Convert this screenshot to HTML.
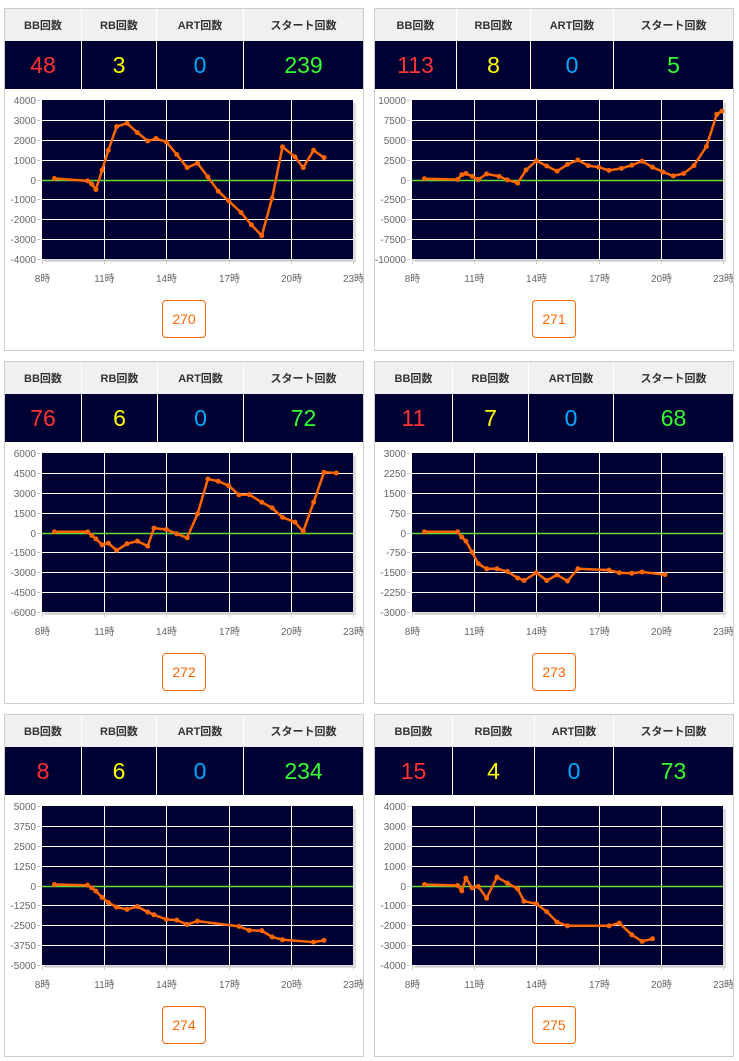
<!DOCTYPE html>
<html><head><meta charset="utf-8">
<style>
body{margin:0;background:#fff;width:739px;height:1061px;position:relative;overflow:hidden;font-family:"Liberation Sans","Noto Sans CJK JP",sans-serif;}
.panel{position:absolute;width:358px;height:341px;border:1px solid #ccc;background:#fff;}
.hdr,.val{position:absolute;left:0;display:flex;width:358px;}
.hdr{top:0;height:32px;background:#f0f0f0;}
.val{top:32px;height:48px;background:#000033;}
.hdr div,.val div{box-sizing:border-box;border-right:1px solid #fff;display:flex;align-items:center;justify-content:center;}
.hdr div{font-size:11px;font-weight:bold;color:#333;}
.val div{font-size:23px;}
.val div:last-child,.hdr div:last-child{border-right:none;}
.btn{position:absolute;left:157px;top:291px;width:42px;height:36px;border:1px solid #ff6600;border-radius:4px;color:#ff6600;font-size:14px;display:flex;align-items:center;justify-content:center;background:#fff;}
svg{position:absolute;left:0;top:80px;}
</style></head><body>
<div id="root"></div>
<script>
const panelIds=['270','271','272','273','274','275'];
const bbCounts=[48,113,76,11,8,15];
const rbCounts=[3,8,6,7,6,4];
const artCounts=[0,0,0,0,0,0];
const startCounts=[239,5,72,68,234,73];
const yMaxes=[4000,10000,6000,3000,5000,4000];
const xTicks=['8時','11時','14時','17時','20時','23時'];
const h1=[8.6,10.2,10.4,10.6,10.9,11.2,11.6,12.1,12.6,13.1,13.5,14.0,14.5,15.0,15.5,16.0,16.5,17.0,17.6,18.1,18.6,19.1,19.6,20.2,20.6,21.1,21.6];
const v1=[50,-70,-230,-500,470,1470,2660,2830,2360,1940,2060,1890,1260,600,820,130,-590,-1070,-1660,-2280,-2830,-940,1640,1140,600,1470,1100];
const h2=[8.6,10.2,10.4,10.6,10.9,11.2,11.6,12.2,12.6,13.1,13.5,14.0,14.5,15.0,15.5,16.0,16.5,17.0,17.5,18.1,18.6,19.1,19.6,20.1,20.6,21.1,21.6,22.2,22.7,22.95];
const v2=[100,0,600,750,400,0,700,400,-50,-450,1200,2350,1700,1050,1900,2450,1750,1550,1150,1400,1800,2300,1550,950,450,750,1750,4150,8200,8600];
const h3=[8.6,10.2,10.4,10.6,10.9,11.2,11.6,12.1,12.6,13.1,13.4,14.0,14.5,15.0,15.5,16.0,16.5,17.0,17.5,18.0,18.6,19.1,19.6,20.2,20.6,21.1,21.6,22.2];
const v3=[50,50,-220,-480,-930,-800,-1350,-850,-650,-1030,330,230,-100,-400,1400,4040,3870,3540,2840,2860,2280,1860,1150,780,80,2280,4540,4490];
const h4=[8.6,10.2,10.4,10.6,10.9,11.2,11.6,12.1,12.6,13.1,13.4,14.0,14.5,15.0,15.5,16.0,17.5,18.0,18.6,19.1,20.2];
const v4=[25,25,-175,-325,-740,-1180,-1370,-1370,-1470,-1720,-1810,-1520,-1810,-1600,-1830,-1370,-1420,-1520,-1540,-1490,-1590];
const h5=[8.6,10.2,10.4,10.6,10.9,11.2,11.6,12.1,12.6,13.1,13.4,14.0,14.5,15.0,15.5,17.5,18.0,18.6,19.1,19.6,21.1,21.6];
const v5=[60,20,-150,-350,-750,-1070,-1360,-1500,-1320,-1670,-1840,-2130,-2180,-2450,-2240,-2570,-2820,-2840,-3240,-3410,-3560,-3450];
const h6=[8.6,10.2,10.4,10.6,10.9,11.2,11.6,12.1,12.6,13.1,13.4,14.0,14.5,15.0,15.5,17.5,18.0,18.6,19.1,19.6];
const v6=[50,0,-270,370,-120,-50,-640,420,120,-170,-790,-920,-1320,-1840,-2030,-2030,-1890,-2480,-2810,-2680];
const hoursAll=[h1,h2,h3,h4,h5,h6];
const valuesAll=[v1,v2,v3,v4,v5,v6];
const colWidths=[[77,75,87,119],[82,74,83,119],[77,76,86,119],[78,76,85,119],[77,75,87,119],[78,82,79,119]];
const pos=[[4,8],[374,8],[4,361],[374,361],[4,714],[374,714]];
const NS='http://www.w3.org/2000/svg';
const root=document.getElementById('root');
function mk(tag,attrs){const e=document.createElementNS(NS,tag);for(const k in attrs)e.setAttribute(k,attrs[k]);return e;}
for(let p=0;p<6;p++){
  const d=document.createElement('div');d.className='panel';
  
  
  d.style.left=pos[p][0]+'px';d.style.top=pos[p][1]+'px';
  const cw=colWidths[p];
  const labels=['BB回数','RB回数','ART回数','スタート回数'];
  const vals=[bbCounts[p],rbCounts[p],artCounts[p],startCounts[p]];
  const cols=['#ff3333','#ffff00','#00aaff','#33ff33'];
  const hn=['bb','rb','art','start'];
  let hd=document.createElement('div');hd.className='hdr';
  
  
  let vd=document.createElement('div');vd.className='val';
  
  
  for(let i=0;i<4;i++){
    const a=document.createElement('div');a.style.width=cw[i]+'px';a.textContent=labels[i];
    
    
    hd.appendChild(a);
    const b=document.createElement('div');b.style.width=cw[i]+'px';b.textContent=vals[i];b.style.color=cols[i];
    
    
    vd.appendChild(b);
  }
  d.appendChild(hd);d.appendChild(vd);
  const svg=mk('svg',{width:358,height:210});
  
  
  const L=37,R=348,T=11,B=170;
  const ymax=yMaxes[p];
  const xs=h=>L+(h-8)/15*(R-L);
  const ys=v=>T+(ymax-v)/(2*ymax)*(B-T);
  svg.appendChild(mk('rect',{x:L+3,y:T+3,width:R-L,height:B-T,fill:'#ddd'}));
  const bg=mk('rect',{x:L,y:T,width:R-L,height:B-T,fill:'#000033'});
  
  
  svg.appendChild(bg);
  for(let i=0;i<=8;i++){
    const v=ymax-i*ymax/4;const y=Math.round(ys(v))+0.5;
    if(i>0&&i<8&&i!==4)svg.appendChild(mk('line',{x1:L,x2:R,y1:y,y2:y,stroke:'#fff','stroke-width':1,'shape-rendering':'crispEdges'}));
    svg.appendChild(mk('line',{x1:L-5,x2:L-2,y1:y,y2:y,stroke:'#ccc','stroke-width':1}));
    const t=mk('text',{x:L-6,y:y+3.5,'text-anchor':'end','font-size':10,fill:'#666','font-family':'Liberation Sans, sans-serif'});
    t.textContent=String(v);
    
    
    svg.appendChild(t);
  }
  for(let i=0;i<xTicks.length;i++){
    const x=Math.round(xs(8+i*3))+0.5;
    if(i>0&&i<5)svg.appendChild(mk('line',{x1:x,x2:x,y1:T,y2:B,stroke:'#fff','stroke-width':1,'shape-rendering':'crispEdges'}));
    svg.appendChild(mk('line',{x1:x,x2:x,y1:B+2,y2:B+5,stroke:'#ccc','stroke-width':1}));
    const t=mk('text',{x:x,y:B+23,'text-anchor':'middle','font-size':10,fill:'#666','font-family':'Liberation Sans, Noto Sans CJK JP, sans-serif'});
    t.textContent=xTicks[i];
    
    
    svg.appendChild(t);
  }
  svg.appendChild(mk('line',{x1:L,x2:R,y1:B+1.5,y2:B+1.5,stroke:'#ccc','stroke-width':1}));
  const zy=Math.round(ys(0))+0.5;
  const z=mk('line',{x1:L,x2:R,y1:zy,y2:zy,stroke:'#66dd33','stroke-width':1.5});
  
  
  svg.appendChild(z);
  const hs=hoursAll[p],vs=valuesAll[p];
  const pts=hs.map((h,i)=>xs(h).toFixed(1)+','+ys(vs[i]).toFixed(1)).join(' ');
  const pl=mk('polyline',{points:pts,fill:'none',stroke:'#ff6600','stroke-width':2.5,'stroke-linejoin':'round'});
  
  
  svg.appendChild(pl);
  hs.forEach((h,i)=>{
    const c=mk('circle',{cx:xs(h),cy:ys(vs[i]),r:2.5,fill:'#ff6600'});
    
    
    svg.appendChild(c);
  });
  d.appendChild(svg);
  const btn=document.createElement('div');btn.className='btn';btn.textContent=panelIds[p];
  
  
  d.appendChild(btn);
  root.appendChild(d);
}
</script>
</body></html>
